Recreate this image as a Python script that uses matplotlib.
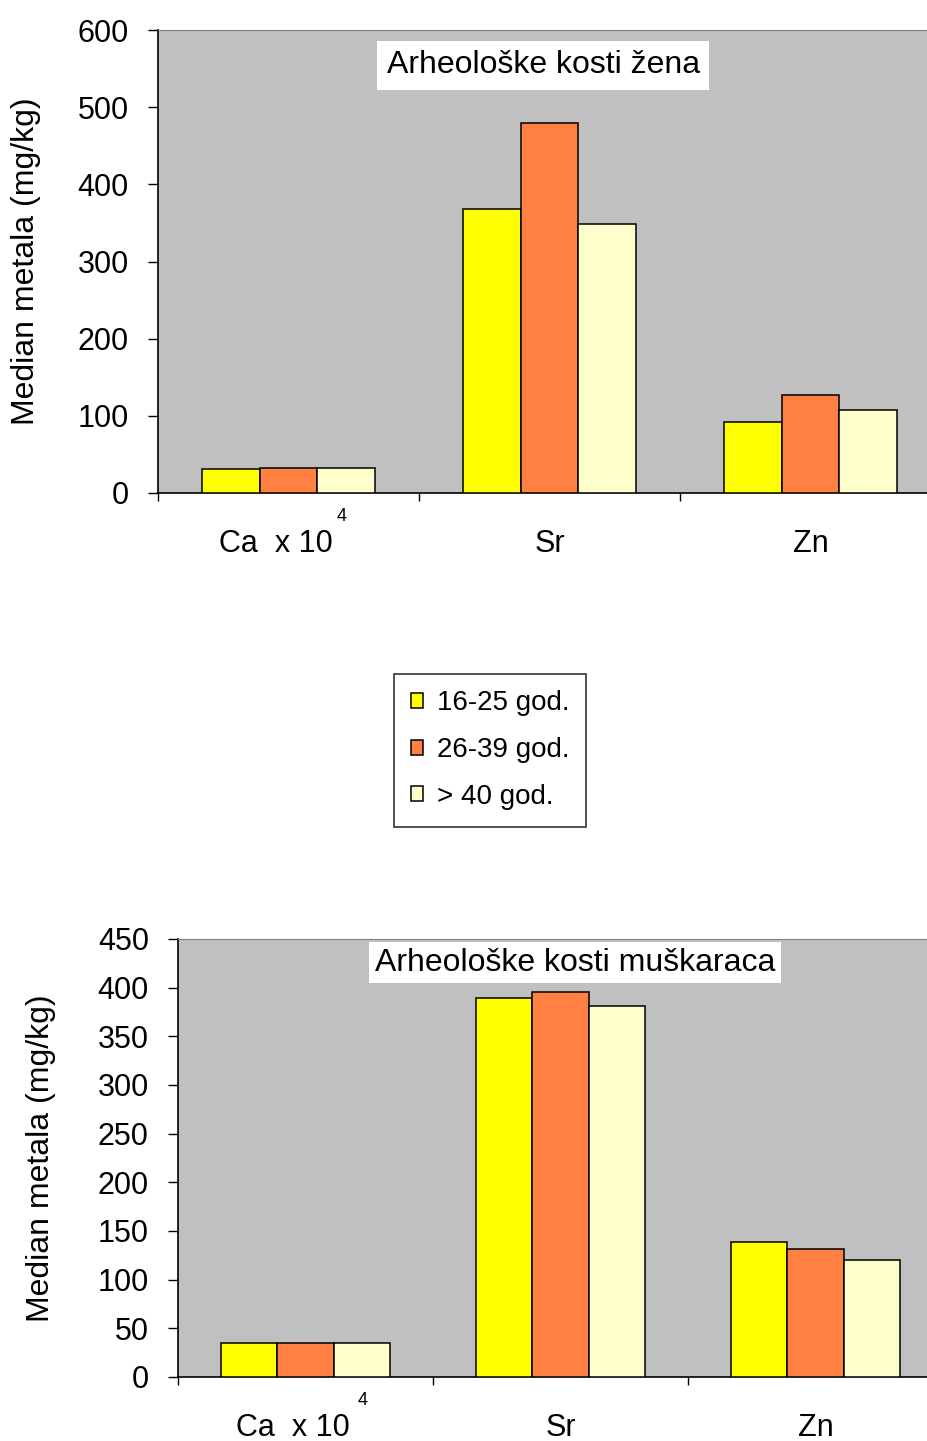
import numpy as np
import matplotlib
matplotlib.use("Agg")
import matplotlib.pyplot as plt

# data
categories = ["Ca  x 10", "Sr", "Zn"]
groups = ["16-25 god.", "26-39 god.", "> 40 god."]
zene = [[31, 368, 92],      # 16-25
        [33, 480, 127],     # 26-39
        [33, 349, 108]]     # > 40
muskarci = [[35, 389, 139],
            [35, 396, 132],
            [35, 381, 120]]
title_top = "Arheološke kosti žena"
title_bot = "Arheološke kosti muškaraca"
ylabel = "Median metala (mg/kg)"

colors = ["#FFFF00", "#FF8040", "#FFFFCC"]

plt.rcParams['font.family'] = ['Liberation Sans', 'DejaVu Sans']

fig = plt.figure(figsize=(9.28, 14.41), dpi=100)

W, H = 928, 1441


def px_axes(l, t, r, b):
    return fig.add_axes([l / W, 1 - b / H, (r - l) / W, (b - t) / H])


def draw(ax, data, ymax, ystep, title, tbox, lab_x, sup_off):
    ax.set_facecolor("#C0C0C0")
    x = np.arange(len(categories)) + 0.5
    bw = 0.22
    bars = []
    for i, vals in enumerate(data):
        b = ax.bar(x + (i - 1) * bw, vals, bw, color=colors[i],
                   edgecolor="black", linewidth=1.1, label=groups[i], zorder=3)
        bars.append(b)
    ax.set_xlim(0, len(categories))
    ax.set_ylim(0, ymax)
    ax.set_yticks(np.arange(0, ymax + 1, ystep))
    ax.tick_params(axis='y', labelsize=22, length=7, width=1, pad=14)
    ax.set_xticks(np.arange(len(categories) + 1))
    ax.set_xticklabels([])
    ax.set_xticks([0.45, 1.5, 2.5], minor=True)
    ax.set_xticklabels(categories, minor=True)
    ax.tick_params(axis='x', which='major', length=6, width=1)
    ax.tick_params(axis='x', which='minor', length=0, labelsize=22, pad=26)
    for s in ["left", "bottom"]:
        ax.spines[s].set_color("black")
        ax.spines[s].set_linewidth(1.2)
    ax.spines["top"].set_color("#808080")
    ax.spines["right"].set_visible(False)
    ax.set_ylabel(ylabel, fontsize=23)
    ax.yaxis.set_label_coords(lab_x, 0.5)
    ax.text(tbox[0], tbox[1], title, transform=ax.transAxes, fontsize=23,
            ha="center", va="center", zorder=5,
            bbox=dict(boxstyle="square,pad=%s" % tbox[2], facecolor="white", edgecolor="none"))
    ax.annotate("4", xy=(0.5, 0), xycoords=("data", "axes fraction"),
                xytext=sup_off, textcoords="offset points", fontsize=13,
                ha="center", va="center", annotation_clip=False)
    return bars


ax1 = px_axes(158, 30, 941, 493)
bars = draw(ax1, zene, 600, 100, title_top, (0.492, 0.924, 0.3), -0.15, (38, -17))

ax2 = px_axes(178, 939, 943, 1377)
draw(ax2, muskarci, 450, 50, title_bot, (0.519, 0.946, 0.18), -0.16, (41, -17))

leg = fig.legend(handles=bars, labels=groups, loc="center",
                 bbox_to_anchor=(490 / W, 1 - 750 / H), fontsize=20,
                 frameon=True, fancybox=False, handlelength=0.45, handleheight=0.45,
                 handletextpad=0.5, borderpad=0.6, labelspacing=0.75)
leg.get_frame().set_edgecolor("black")
leg.get_frame().set_linewidth(1.2)

fig.savefig("out.png", dpi=100)
